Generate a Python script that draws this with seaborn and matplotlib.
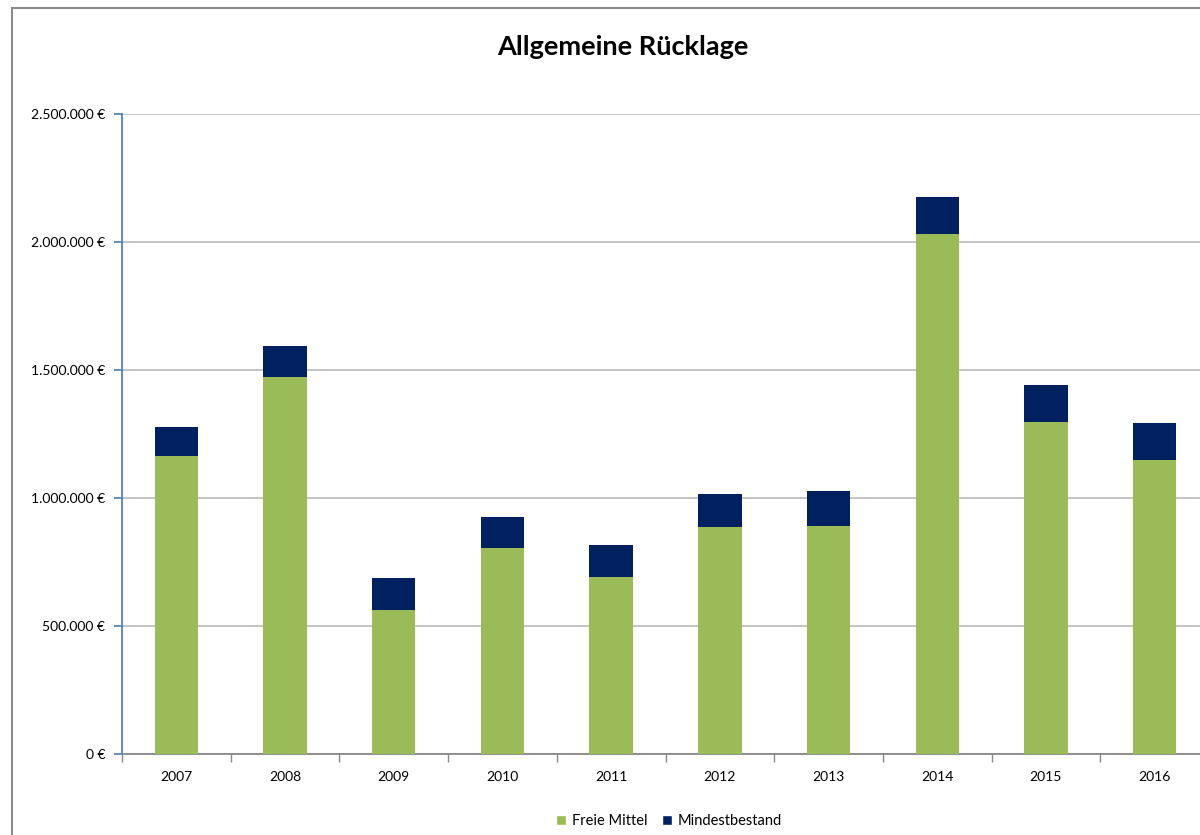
import matplotlib
matplotlib.use("Agg")
import matplotlib.pyplot as plt
from matplotlib.patches import Rectangle, Patch
import pandas as pd
import seaborn as sns

# Werte in Euro
jahre = ["2007", "2008", "2009", "2010", "2011", "2012", "2013", "2014", "2015", "2016"]
freie_mittel = [1164000, 1472000, 561000, 804000, 690000, 888000, 892000, 2031000, 1298000, 1148000]
mindestbestand = [115000, 123000, 128000, 123000, 125000, 128000, 137000, 144000, 143000, 144000]
y_ticks = [0, 500000, 1000000, 1500000, 2000000, 2500000]

GREEN = "#9BBB59"
NAVY = "#002060"

sns.set_theme(style="white")
plt.rcParams["font.family"] = ["Lato", "DejaVu Sans"]
plt.rcParams["text.color"] = "black"
plt.rcParams["xtick.labelcolor"] = "black"
plt.rcParams["ytick.labelcolor"] = "black"

df = pd.DataFrame({"jahr": jahre, "freie": freie_mittel, "mind": mindestbestand})
df["gesamt"] = df["freie"] + df["mind"]

fig = plt.figure(figsize=(12, 8.35), dpi=100)
ax = fig.add_axes([122 / 1200, 81 / 835, 1087 / 1200, 640 / 835])

# stacked: total in navy, green drawn on top of it
sns.barplot(data=df, x="jahr", y="gesamt", color=NAVY, width=0.4, ax=ax,
            saturation=1, edgecolor="none", zorder=3)
sns.barplot(data=df, x="jahr", y="freie", color=GREEN, width=0.4, ax=ax,
            saturation=1, edgecolor="none", zorder=3)

ax.set_ylim(0, 2500000)
ax.set_xlim(-0.5, len(jahre) - 0.5)
ax.set_yticks(y_ticks)
ax.set_yticklabels([f"{v:,}".replace(",", ".") + " €" for v in y_ticks], fontsize=10)
ax.set_xlabel("")
ax.set_ylabel("")
ax.tick_params(axis="x", which="major", length=0, labelsize=10, pad=12)
ax.set_xticks([i - 0.5 for i in range(len(jahre) + 1)], minor=True)
ax.tick_params(axis="x", which="minor", length=6, color="#888888", direction="out", bottom=True)
ax.tick_params(axis="y", length=6, color="#4F81BD", direction="out", left=True, pad=6)

ax.yaxis.grid(True, color="#BFBFBF", linewidth=1.3)
ax.set_axisbelow(True)
for side in ["top", "right"]:
    ax.spines[side].set_visible(False)
ax.spines["left"].set_color("#4F81BD")
ax.spines["left"].set_linewidth(1.3)
ax.spines["bottom"].set_color("#888888")
ax.spines["bottom"].set_linewidth(1.3)

fig.text(623 / 1200, 1 - 47 / 835, "Allgemeine Rücklage", ha="center", va="center",
         fontsize=19.5, fontweight="bold", color="black")

handles = [Patch(facecolor=GREEN, label="Freie Mittel"),
           Patch(facecolor=NAVY, label="Mindestbestand")]
fig.legend(handles=handles, loc="center", bbox_to_anchor=(669 / 1200, 14 / 835), ncol=2,
           frameon=False, fontsize=10.5, handlelength=0.7, handleheight=0.7,
           handletextpad=0.4, columnspacing=1.0)

# outer chart frame, cut off on the right and bottom like the screenshot
fig.patches.append(Rectangle((12 / 1200, -0.1), 1.2, 1 - 8 / 835 + 0.1,
                             transform=fig.transFigure, fill=False,
                             edgecolor="#8C8C8C", linewidth=1.5))

fig.savefig("out.png", dpi=100)
